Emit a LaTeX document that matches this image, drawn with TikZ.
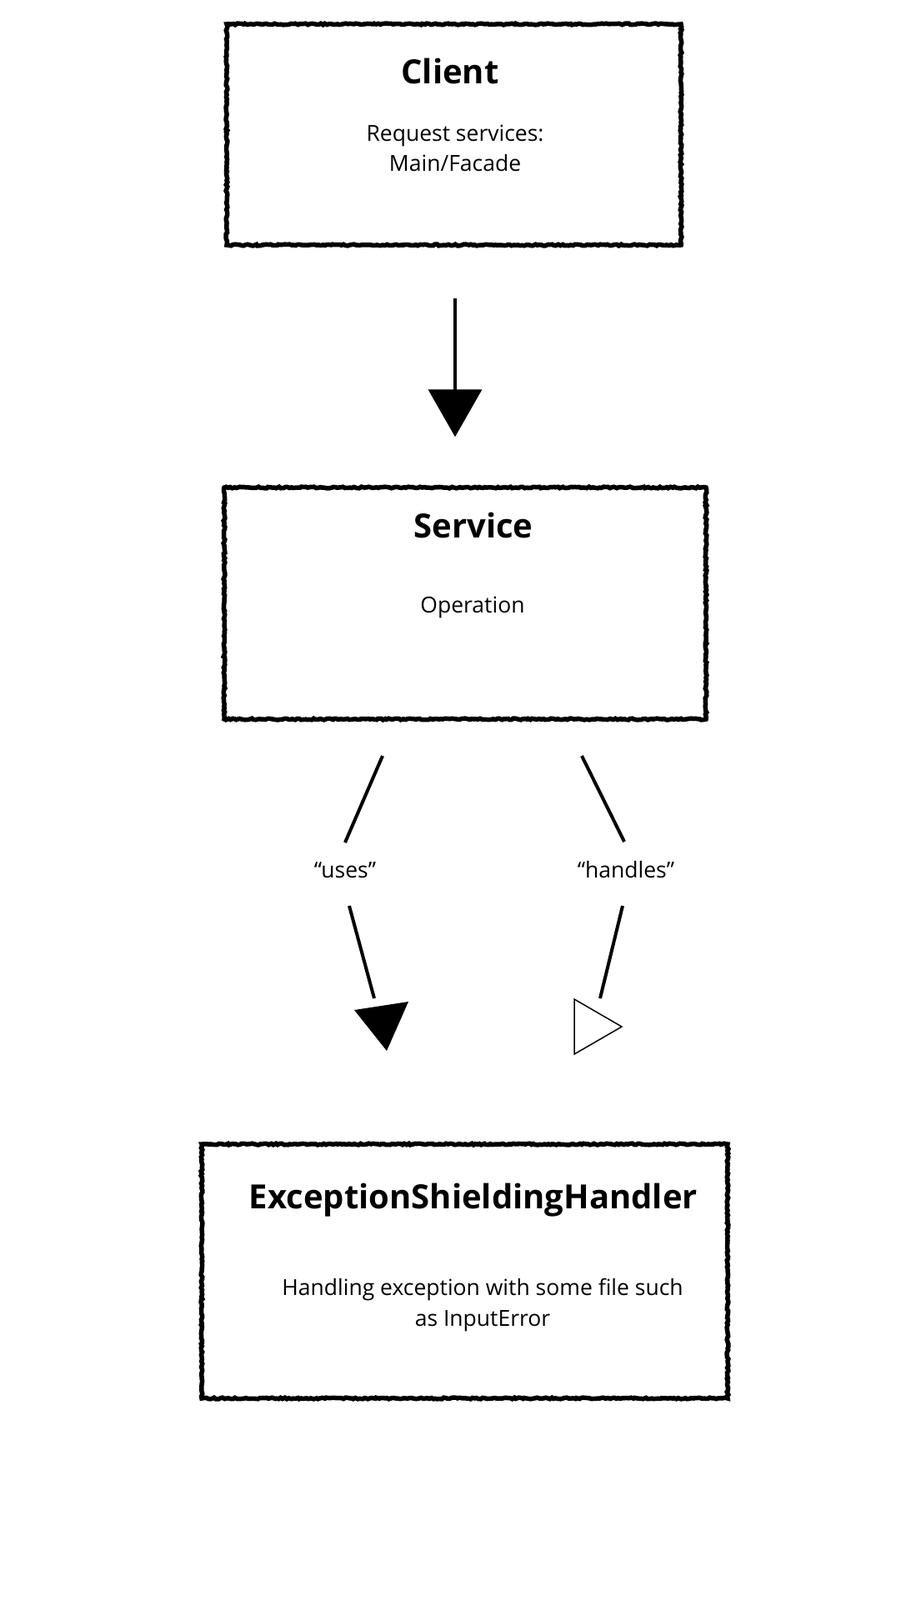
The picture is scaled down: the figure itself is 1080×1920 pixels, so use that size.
\documentclass[tikz,border=0pt]{standalone}
\usepackage{fontspec}
\setmainfont{Open Sans}
\usetikzlibrary{arrows.meta,decorations.pathmorphing,positioning}

\tikzset{
  sketchbox/.style={draw,rectangle,inner sep=0pt,line width=5.5pt,
    decorate,decoration={random steps,segment length=2.5pt,amplitude=0.9pt}},
  title/.style={font=\fontsize{40}{48}\selectfont\bfseries,inner sep=0pt},
  desc/.style={font=\fontsize{26.5}{36.5}\selectfont,align=center,inner sep=0pt},
  flow/.style={line width=4pt},
}

\begin{document}
\begin{tikzpicture}[x=1pt,y=-1pt]
		\useasboundingbox (0,0) rectangle (1080,1920);
		% boxes
		\node[sketchbox,minimum width=545pt,minimum height=265pt] (client) at (544.5,161.5) {};
		\node[sketchbox,minimum width=578pt,minimum height=278pt] (service) at (558,724) {};
		\node[sketchbox,minimum width=631pt,minimum height=305pt] (handler) at (557.5,1525.5) {};
		%
		\node[title] (clientT) at (540,85) {Client};
		\node[desc] (clientD) at (546,178) {Request services:\\Main/Facade};
		\node[title] (serviceT) at (568,630) {Service};
		\node[desc] (serviceD) at (567,729) {Operation};
		\node[title] (handlerT) at (568,1440) {ExceptionShieldingHandler};
		\node[desc] (handlerD) at (579,1566) {Handling exception with some file such\\as InputError};
		%
		\node[desc] (uses) at (414,1044) {“uses”};
		\node[desc] (handles) at (751,1044) {“handles”};
		%
		\coordinate (mid) at (546,0);
		\coordinate (u1) at (459,907);
		\coordinate (u2) at (414,1011);
		\coordinate (u3) at (419,1087);
		\coordinate (u4) at (449,1198);
		\coordinate (h1) at (698,907);
		\coordinate (h2) at (749,1010);
		\coordinate (h3) at (747,1087);
		\coordinate (h4) at (720,1198);
		%
		\draw[flow,shorten <=61pt,shorten >=58pt,-{Triangle[width=64pt,length=57pt]}]
		(client.south -| mid) -- (service.north -| mid);
		\draw[flow] (u1) -- (u2) (u3) -- (u4);
		\draw[flow] (h1) -- (h2) (h3) -- (h4);
		% heads
		\fill (425,1212) -- (490,1202) -- (464,1261) -- cycle;
		\draw[line width=1.5pt,fill=white,line join=miter] (689,1199) -- (746,1232) -- (689,1265) -- cycle;
	\end{tikzpicture}
\end{document}
